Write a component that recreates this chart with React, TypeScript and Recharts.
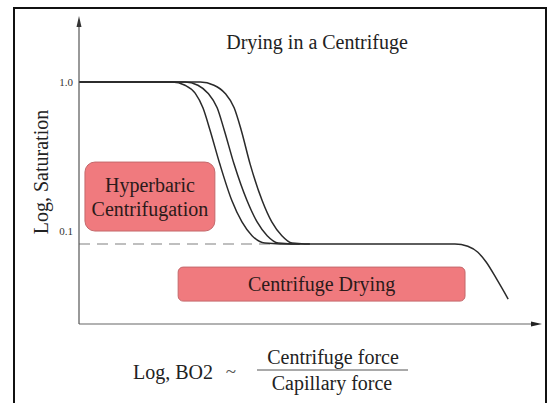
import React from 'react';
import {
    LineChart,
    Line,
    XAxis,
    YAxis,
    ReferenceLine,
    ReferenceArea,
} from 'recharts';

// x is log Bond number (arbitrary units), saturation on a log axis
const curve1X = [0, 2.03, 2.31, 2.53, 2.7, 2.85, 3.07, 3.33, 3.55, 3.77, 4.05, 4.38, 4.81];
const curve1S = [1.0, 1.0, 0.95, 0.84, 0.67, 0.48, 0.28, 0.16, 0.115, 0.093, 0.083, 0.082, 0.082];

const curve2X = [0, 2.31, 2.59, 2.81, 3.01, 3.16, 3.38, 3.66, 3.88, 4.1, 4.34, 4.64, 5.03];
const curve2S = [1.0, 1.0, 0.95, 0.84, 0.67, 0.48, 0.28, 0.16, 0.115, 0.093, 0.083, 0.082, 0.082];

const curve3X = [0, 2.64, 2.94, 3.18, 3.38, 3.53, 3.73, 3.99, 4.2, 4.42, 4.64, 4.92, 5.25, 8.19, 8.47, 8.69, 8.87, 9.11, 9.35];
const curve3S = [1.0, 1.0, 0.95, 0.84, 0.67, 0.48, 0.28, 0.16, 0.115, 0.093, 0.083, 0.082, 0.082, 0.082, 0.079, 0.072, 0.062, 0.047, 0.035];

const yTicks = [0.1, 1.0];
const residualS = 0.082;
const residualEndX = 4.2;

const hyperbaricLabel = ['Hyperbaric', 'Centrifugation'];
const dryingLabel = ['Centrifuge Drying'];

const toRows = (xs: number[], ss: number[]) => xs.map((x, i) => ({ x, s: ss[i] }));

const serif = '"Liberation Serif", "Times New Roman", serif';

const boxLabel = (lines: string[]) => (props: any) => {
    const vb = props.viewBox || {};
    const cx = vb.x + vb.width / 2;
    const cy = vb.y + vb.height / 2;
    const lh = 24;
    const start = cy - ((lines.length - 1) * lh) / 2;
    return (
        <text textAnchor="middle" fontFamily={serif} fontSize={20} fill="#2b1a1a">
            {lines.map((l, i) => (
                <tspan key={l} x={cx} y={start + i * lh} dominantBaseline="central">
                    {l}
                </tspan>
            ))}
        </text>
    );
};

export default function App() {
    return (
        <div style={{ position: 'absolute', left: 0, top: 0, width: 548, height: 403, background: '#fff', overflow: 'hidden' }}>
            <LineChart width={548} height={403} margin={{ top: 20, right: 10, bottom: 0, left: 0 }}>
                <XAxis
                    type="number"
                    dataKey="x"
                    domain={[0, 10]}
                    allowDataOverflow
                    height={79}
                    tick={false}
                    tickLine={false}
                    axisLine={{ stroke: '#666', strokeWidth: 1.2 }}
                />
                <YAxis
                    dataKey="s"
                    scale="log"
                    domain={[0.0238, 2.6]}
                    allowDataOverflow
                    width={79}
                    ticks={yTicks}
                    tickFormatter={(v: number) => v.toFixed(1)}
                    tickLine={false}
                    tickMargin={0}
                    tick={{ fontSize: 11, fontFamily: serif, fill: '#333' }}
                    axisLine={{ stroke: '#555', strokeWidth: 1.2 }}
                />
                <ReferenceArea
                    x1={0.13}
                    x2={2.96}
                    y1={0.1}
                    y2={0.29}
                    fill="#f07a7e"
                    fillOpacity={1}
                    stroke="#c4686b"
                    strokeWidth={1}
                    radius={10}
                    label={boxLabel(hyperbaricLabel)}
                />
                <ReferenceArea
                    x1={2.16}
                    x2={8.41}
                    y1={0.0339}
                    y2={0.0573}
                    fill="#f07a7e"
                    fillOpacity={1}
                    stroke="#c4686b"
                    strokeWidth={1}
                    radius={5}
                    label={boxLabel(dryingLabel)}
                />
                <ReferenceLine
                    segment={[{ x: 0, y: residualS }, { x: residualEndX, y: residualS }]}
                    stroke="#aaa"
                    strokeWidth={1.5}
                    strokeDasharray="11 7"
                />
                <Line data={toRows(curve1X, curve1S)} dataKey="s" type="monotone" stroke="#2a2a2a" strokeWidth={1.5} dot={false} isAnimationActive={false} />
                <Line data={toRows(curve2X, curve2S)} dataKey="s" type="monotone" stroke="#2a2a2a" strokeWidth={1.5} dot={false} isAnimationActive={false} />
                <Line data={toRows(curve3X, curve3S)} dataKey="s" type="monotone" stroke="#2a2a2a" strokeWidth={1.5} dot={false} isAnimationActive={false} />
            </LineChart>
            <svg width={548} height={403} style={{ position: 'absolute', left: 0, top: 0, pointerEvents: 'none' }}>
                <rect x={14} y={8} width={532} height={420} fill="none" stroke="#111" strokeWidth={2} />
                <polygon points="79,16 76.5,27 81.5,27" fill="#333" />
                <polygon points="542,324 531,321.5 531,326.5" fill="#222" />
                <text x={317} y={42} textAnchor="middle" dominantBaseline="central" fontFamily={serif} fontSize={20} fill="#222">
                    Drying in a Centrifuge
                </text>
                <text
                    x={41}
                    y={172}
                    textAnchor="middle"
                    dominantBaseline="central"
                    fontFamily={serif}
                    fontSize={20}
                    fill="#222"
                    transform="rotate(-90 41 172)"
                >
                    Log, Saturation
                </text>
                <text x={133} y={372} dominantBaseline="central" fontFamily={serif} fontSize={20} fill="#222">
                    Log, BO2
                </text>
                <text x={231} y={371} textAnchor="middle" dominantBaseline="central" fontFamily={serif} fontSize={19} fill="#555">
                    ~
                </text>
                <text x={333} y={357} textAnchor="middle" dominantBaseline="central" fontFamily={serif} fontSize={20} fill="#222">
                    Centrifuge force
                </text>
                <line x1={257} x2={408} y1={370} y2={370} stroke="#555" strokeWidth={1} />
                <text x={332} y={383} textAnchor="middle" dominantBaseline="central" fontFamily={serif} fontSize={20} fill="#222">
                    Capillary force
                </text>
            </svg>
        </div>
    );
}
